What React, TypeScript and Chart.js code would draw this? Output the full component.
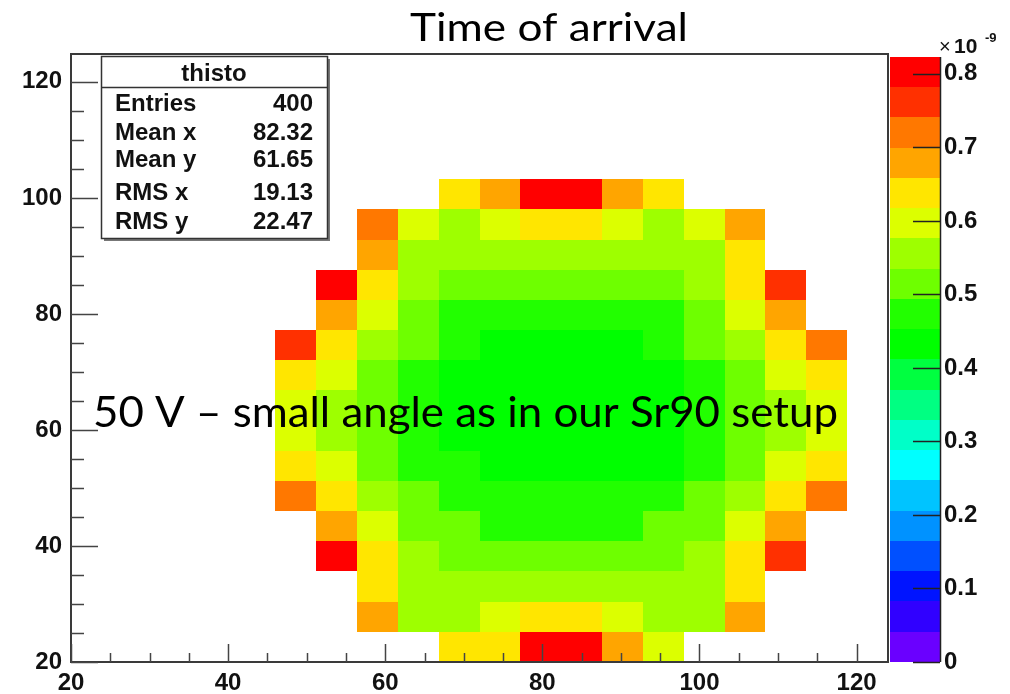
import React, { useEffect, useRef } from 'react';
import { Chart, registerables } from 'chart.js';

Chart.register(...registerables);

// ---------- texts ----------
const chartTitle = 'Time of arrival';
const overlayText = '50 V – small angle as in our Sr90 setup';
const zUnitText = '×10';
const zExponentText = '-9';
const statsName = 'thisto';
const statsLabels = ['Entries', 'Mean x', 'Mean y', 'RMS x', 'RMS y'];
const statsValues = ['400', '82.32', '61.65', '19.13', '22.47'];

// ---------- axes ----------
const xRange = [20, 124];
const yRange = [20, 124.8];
const zRange = [0, 0.827];
const zPaletteMax = 0.823; // top of colour scale (×1e-9)
const zLevels = 20;

// ---------- bins (low edges) ----------
const binWidth = 5.2;
const xBinLow = [46.0, 51.2, 56.4, 61.6, 66.8, 72.0, 77.2, 82.4, 87.6, 92.8, 98.0, 103.2, 108.4, 113.6];
const yBinLow = [20.0, 25.2, 30.4, 35.6, 40.8, 46.0, 51.2, 56.4, 61.6, 66.8, 72.0, 77.2, 82.4, 87.6, 92.8, 98.0];

// ---------- time of arrival (×1e-9 s), one array per y bin, bottom to top ----------
const row00 = [null, null, null, null, 0.638, 0.638, 0.802, 0.802, 0.679, 0.597, null, null, null, null];
const row01 = [null, null, 0.679, 0.556, 0.556, 0.597, 0.638, 0.638, 0.597, 0.556, 0.556, 0.679, null, null];
const row02 = [null, null, 0.638, 0.556, 0.556, 0.556, 0.556, 0.556, 0.556, 0.556, 0.556, 0.638, null, null];
const row03 = [null, 0.802, 0.638, 0.556, 0.514, 0.514, 0.514, 0.514, 0.514, 0.514, 0.556, 0.638, 0.761, null];
const row04 = [null, 0.679, 0.597, 0.514, 0.514, 0.473, 0.473, 0.473, 0.473, 0.514, 0.514, 0.597, 0.679, null];
const row05 = [0.720, 0.638, 0.556, 0.514, 0.473, 0.473, 0.473, 0.473, 0.473, 0.473, 0.514, 0.556, 0.638, 0.720];
const row06 = [0.638, 0.597, 0.514, 0.473, 0.473, 0.432, 0.432, 0.432, 0.432, 0.432, 0.473, 0.514, 0.597, 0.638];
const row07 = [0.597, 0.556, 0.514, 0.473, 0.432, 0.432, 0.432, 0.432, 0.432, 0.432, 0.473, 0.514, 0.556, 0.597];
const row08 = [0.597, 0.556, 0.514, 0.473, 0.432, 0.432, 0.432, 0.432, 0.432, 0.432, 0.473, 0.514, 0.556, 0.597];
const row09 = [0.638, 0.597, 0.514, 0.473, 0.432, 0.432, 0.432, 0.432, 0.432, 0.432, 0.473, 0.514, 0.597, 0.638];
const row10 = [0.761, 0.638, 0.556, 0.514, 0.473, 0.432, 0.432, 0.432, 0.432, 0.473, 0.514, 0.556, 0.638, 0.720];
const row11 = [null, 0.679, 0.597, 0.514, 0.473, 0.473, 0.473, 0.473, 0.473, 0.473, 0.514, 0.597, 0.679, null];
const row12 = [null, 0.802, 0.638, 0.556, 0.514, 0.514, 0.514, 0.514, 0.514, 0.514, 0.556, 0.638, 0.761, null];
const row13 = [null, null, 0.679, 0.556, 0.556, 0.556, 0.556, 0.556, 0.556, 0.556, 0.556, 0.638, null, null];
const row14 = [null, null, 0.720, 0.597, 0.556, 0.597, 0.638, 0.638, 0.597, 0.556, 0.597, 0.679, null, null];
const row15 = [null, null, null, null, 0.638, 0.679, 0.802, 0.802, 0.679, 0.638, null, null, null, null];

const rows = [row00, row01, row02, row03, row04, row05, row06, row07, row08, row09, row10, row11, row12, row13, row14, row15];

// ---------- colour palette (bottom to top) ----------
const paletteColors = [
  '#6a00ff', '#3000ff', '#0014ff', '#0050ff', '#0092ff',
  '#00c4ff', '#00ffff', '#00ffc8', '#00ff82', '#00ff40',
  '#00ff00', '#22ff00', '#6eff00', '#9eff00', '#dcff00',
  '#ffe600', '#ffa500', '#ff7800', '#ff3000', '#ff0000',
];

const boldFont = '"Liberation Sans", Arial, Helvetica, sans-serif';
const textFont = 'Lato, "Open Sans", sans-serif';

function colourFor(v: number) {
  const step = zPaletteMax / zLevels;
  const i = Math.max(0, Math.min(zLevels - 1, Math.floor(v / step)));
  return paletteColors[i];
}

function drawFitted(ctx: CanvasRenderingContext2D, text: string, x: number, y: number, font: string, width: number) {
  ctx.save();
  ctx.font = font;
  const w = ctx.measureText(text).width;
  ctx.translate(x, y);
  ctx.scale(width / w, 1);
  ctx.textAlign = 'left';
  ctx.textBaseline = 'alphabetic';
  ctx.fillText(text, 0, 0);
  ctx.restore();
}

const heatmapPlugin = {
  id: 'heatmapCells',
  beforeDatasetsDraw(chart: any) {
    const { ctx, chartArea: a, scales } = chart;
    const xs = scales.x;
    const ys = scales.y;
    ctx.save();
    ctx.beginPath();
    ctx.rect(a.left, a.top, a.width, a.height);
    ctx.clip();
    const pts = chart.data.datasets[0].data as any[];
    pts.forEach((p) => {
      const x0 = xs.getPixelForValue(p.xl);
      const x1 = xs.getPixelForValue(p.xl + binWidth);
      const y0 = ys.getPixelForValue(p.yl);
      const y1 = ys.getPixelForValue(p.yl + binWidth);
      ctx.fillStyle = colourFor(p.v);
      const l = Math.round(x0), r = Math.round(x1), t = Math.round(y1), b = Math.round(y0);
      ctx.fillRect(l, t, r - l, b - t);
    });
    ctx.restore();
  },
};

const decorPlugin = {
  id: 'rootDecor',
  afterDraw(chart: any) {
    const { ctx, chartArea: a, scales } = chart;
    const xs = scales.x;
    const ys = scales.y;
    const zs = scales.z;
    ctx.save();

    // frame
    ctx.strokeStyle = '#3a3a3a';
    ctx.lineWidth = 2;
    ctx.strokeRect(a.left, a.top, a.width, a.height);

    // axis ticks (inside frame)
    ctx.lineWidth = 1.5;
    ctx.strokeStyle = '#444';
    ctx.beginPath();
    for (let v = xRange[0]; v <= xRange[1] + 1e-6; v += 5) {
      const major = Math.abs(v % 20) < 1e-6;
      const px = Math.round(xs.getPixelForValue(v)) + 0.5;
      ctx.moveTo(px, a.bottom);
      ctx.lineTo(px, a.bottom - (major ? 18 : 9));
    }
    for (let v = yRange[0]; v <= yRange[1] + 1e-6; v += 5) {
      const major = Math.abs(v % 20) < 1e-6;
      const py = Math.round(ys.getPixelForValue(v)) + 0.5;
      ctx.moveTo(a.left, py);
      ctx.lineTo(a.left + (major ? 27 : 13), py);
    }
    ctx.stroke();

    // colour palette
    const px0 = 890;
    const px1 = 940;
    const step = zPaletteMax / zLevels;
    for (let i = 0; i < zLevels; i++) {
      const yb = zs.getPixelForValue(i * step);
      const yt = zs.getPixelForValue((i + 1) * step);
      ctx.fillStyle = paletteColors[i];
      ctx.fillRect(px0, Math.round(yt), px1 - px0, Math.round(yb) - Math.round(yt));
    }
    ctx.strokeStyle = '#222';
    ctx.lineWidth = 1.5;
    ctx.beginPath();
    ctx.moveTo(px1 + 0.5, zs.getPixelForValue(zPaletteMax));
    ctx.lineTo(px1 + 0.5, zs.getPixelForValue(0));
    zs.ticks.forEach((t: any) => {
      const py = Math.round(zs.getPixelForValue(t.value)) + 0.5;
      ctx.moveTo(913, py);
      ctx.lineTo(px1, py);
    });
    ctx.stroke();

    // ×10^-9
    ctx.fillStyle = '#111';
    ctx.textAlign = 'left';
    ctx.textBaseline = 'alphabetic';
    ctx.font = `20px ${boldFont}`;
    ctx.fillText(zUnitText.slice(0, 1), 939, 53);
    ctx.font = `bold 21px ${boldFont}`;
    ctx.fillText(zUnitText.slice(1), 954, 53);
    ctx.font = `bold 13px ${boldFont}`;
    ctx.fillText(zExponentText, 985, 42);

    // stats box
    const bx = 101, by = 56, bw = 226, bh = 182;
    ctx.fillStyle = '#777';
    ctx.fillRect(bx + 3, by + 3, bw, bh);
    ctx.fillStyle = '#fff';
    ctx.fillRect(bx, by, bw, bh);
    ctx.strokeStyle = '#333';
    ctx.lineWidth = 1.5;
    ctx.strokeRect(bx + 0.5, by + 0.5, bw, bh);
    ctx.beginPath();
    ctx.moveTo(bx, 87.5);
    ctx.lineTo(bx + bw, 87.5);
    ctx.stroke();
    ctx.fillStyle = '#111';
    ctx.font = `bold 24px ${boldFont}`;
    ctx.textAlign = 'center';
    ctx.fillText(statsName, bx + bw / 2, 81);
    const baselines = [111, 140, 167, 200, 229];
    statsLabels.forEach((lab, i) => {
      ctx.textAlign = 'left';
      ctx.fillText(lab, 115, baselines[i]);
      ctx.textAlign = 'right';
      ctx.fillText(statsValues[i], 313, baselines[i]);
    });

    // title and overlay text
    ctx.fillStyle = '#000';
    drawFitted(ctx, chartTitle, 410, 41, `38px ${textFont}`, 278);
    drawFitted(ctx, overlayText, 93, 427, `42px ${textFont}`, 745);

    ctx.restore();
  },
};

export default function App() {
  const ref = useRef<HTMLCanvasElement | null>(null);

  useEffect(() => {
    if (!ref.current) return;
    const cells: any[] = [];
    rows.forEach((row, j) => {
      row.forEach((v, i) => {
        if (v === null) return;
        cells.push({ x: xBinLow[i] + binWidth / 2, y: yBinLow[j] + binWidth / 2, xl: xBinLow[i], yl: yBinLow[j], v });
      });
    });

    const tickFont = { family: boldFont, size: 24, weight: 'bold' as const };
    const hiddenGrid = { display: true, drawOnChartArea: false, drawTicks: true, color: 'rgba(0,0,0,0)' };

    const chart = new Chart(ref.current, {
      type: 'scatter',
      data: {
        datasets: [
          {
            data: cells,
            pointRadius: 0,
            pointHoverRadius: 0,
            yAxisID: 'y',
          } as any,
        ],
      },
      options: {
        animation: false,
        responsive: false,
        devicePixelRatio: 1,
        events: [],
        layout: { padding: { top: 54, left: 0, right: 0, bottom: 0 } },
        plugins: {
          legend: { display: false },
          tooltip: { enabled: false },
          title: { display: false },
        },
        scales: {
          x: {
            type: 'linear',
            position: 'bottom',
            min: xRange[0],
            max: xRange[1],
            grid: { ...hiddenGrid, tickLength: 7 },
            border: { display: false },
            ticks: { stepSize: 20, includeBounds: false, font: tickFont, color: '#111', padding: 0, maxRotation: 0, autoSkip: false },
            afterFit: (s: any) => { s.height = 32; },
          },
          y: {
            type: 'linear',
            position: 'left',
            min: yRange[0],
            max: yRange[1],
            grid: { ...hiddenGrid, tickLength: 9 },
            border: { display: false },
            ticks: { stepSize: 20, includeBounds: false, font: tickFont, color: '#111', padding: 0, autoSkip: false },
            afterFit: (s: any) => { s.width = 71; },
          },
          z: {
            type: 'linear',
            position: 'right',
            min: zRange[0],
            max: zRange[1],
            grid: { ...hiddenGrid, tickLength: 56 },
            border: { display: false },
            ticks: {
              stepSize: 0.1,
              includeBounds: false,
              font: tickFont,
              color: '#111',
              padding: 0,
              autoSkip: false,
              callback: (v: any) => (Number(v) === 0 ? '0' : Number(v).toFixed(1)),
            },
            afterFit: (s: any) => { s.width = 122; },
          },
        },
      } as any,
      plugins: [heatmapPlugin, decorPlugin],
    });
    return () => chart.destroy();
  }, []);

  return (
    <div style={{ position: 'absolute', left: 0, top: 0, width: 1010, height: 694, background: '#fff' }}>
      <canvas ref={ref} width={1010} height={694} style={{ width: 1010, height: 694, display: 'block' }} />
    </div>
  );
}
